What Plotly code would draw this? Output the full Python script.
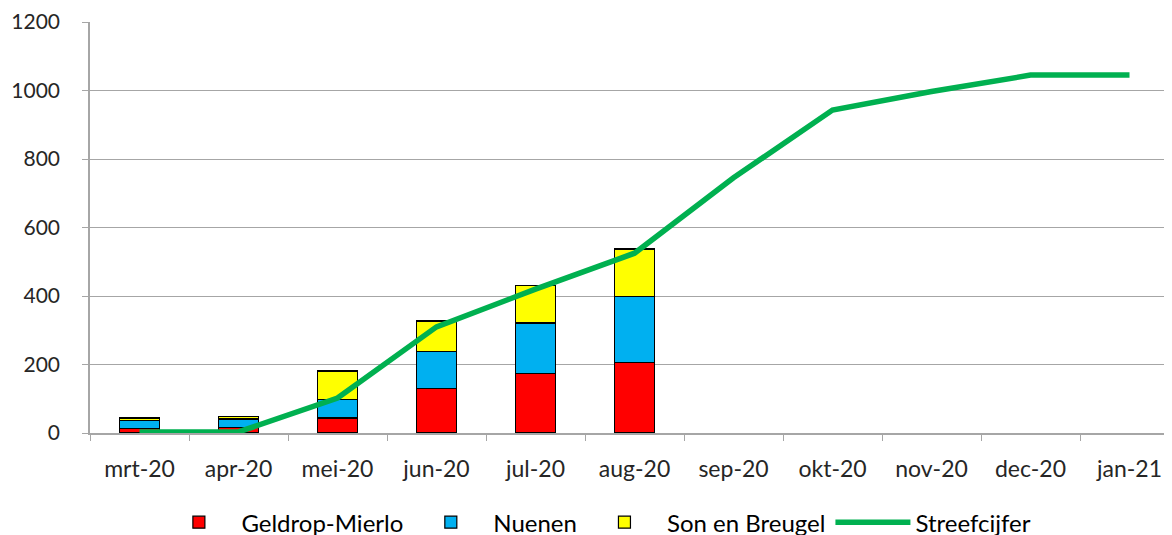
import plotly.graph_objects as go

months = ["mrt-20", "apr-20", "mei-20", "jun-20", "jul-20", "aug-20",
          "sep-20", "okt-20", "nov-20", "dec-20", "jan-21"]
bar_months = months[:6]
geldrop = [12, 15, 44, 131, 174, 207]
nuenen = [25, 26, 53, 107, 147, 192]
son = [7, 7, 84, 89, 109, 138]
streef = [3, 3, 102, 310, 420, 525, 745, 943, 997, 1045, 1045]

font_family = "Lato, 'Open Sans', sans-serif"

fig = go.Figure()
for name, vals, col in [("Geldrop-Mierlo", geldrop, "#ff0000"),
                        ("Nuenen", nuenen, "#00b0f0"),
                        ("Son en Breugel", son, "#ffff00")]:
    fig.add_trace(go.Bar(x=bar_months, y=vals, name=name, width=0.41,
                         marker=dict(color=col, line=dict(color="black", width=1.2))))
fig.add_trace(go.Scatter(x=months, y=streef, name="Streefcijfer", mode="lines",
                         line=dict(color="#00b050", width=5.5)))

fig.update_layout(
    barmode="stack",
    width=1172, height=535,
    margin=dict(l=82, r=1, t=14, b=110, autoexpand=False),
    plot_bgcolor="white", paper_bgcolor="white",
    font=dict(family=font_family, size=22, color="#262626"),
    showlegend=True,
    legend=dict(orientation="h", x=0.465, xanchor="center", y=-0.218, yanchor="middle",
                font=dict(size=24, color="#000000"), traceorder="normal",
                itemwidth=75, tracegroupgap=0),
    xaxis=dict(categoryorder="array", categoryarray=months,
               range=[-0.5, 10.5], showgrid=False, automargin=False,
               showline=True, linecolor="#a6a6a6", linewidth=1.5,
               ticks="outside", tickson="boundaries", ticklen=6, tickcolor="#a6a6a6",
               ticklabelstandoff=15,
               tickfont=dict(size=23, color="#262626")),
    yaxis=dict(range=[0, 1200], dtick=200, showgrid=True, gridcolor="#a6a6a6", gridwidth=1.2,
               showline=True, linecolor="#a6a6a6", linewidth=1.5, automargin=False,
               ticks="outside", ticklen=6, tickcolor="#a6a6a6",
               ticklabelstandoff=18, zeroline=False,
               tickfont=dict(size=21, color="#262626")),
)

fig.write_html("out.html")
